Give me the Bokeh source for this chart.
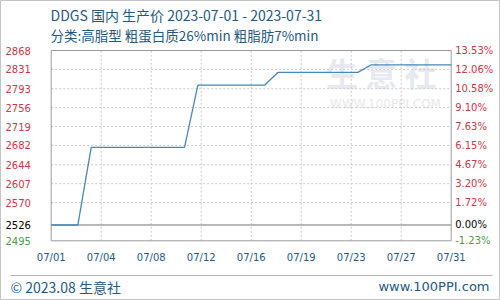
from bokeh.plotting import figure
from bokeh.models import Range1d, ColumnDataSource
from bokeh.core.properties import value
from bokeh.embed import file_html
from bokeh.resources import INLINE

# ---- data ----
dates = ["07/%02d" % d for d in range(1, 32)]
prices = [2526, 2526, 2526,
          2678, 2678, 2678, 2678, 2678, 2678, 2678, 2678,
          2800, 2800, 2800, 2800, 2800, 2800,
          2825, 2825, 2825, 2825, 2825, 2825, 2825,
          2840, 2840, 2840, 2840, 2840, 2840, 2840]
x_idx = list(range(len(dates)))

x_tick_pos = [0, 3.75, 7.5, 11.25, 15, 18.75, 22.5, 26.25, 30]
x_tick_labels = ["07/01", "07/04", "07/08", "07/12", "07/16", "07/19", "07/23", "07/27", "07/31"]

y_ticks = [2495, 2526, 2570, 2607, 2644, 2682, 2719, 2756, 2793, 2831, 2868]
y_left_labels = ["2495", "2526", "2570", "2607", "2644", "2682", "2719", "2756", "2793", "2831", "2868"]
y_right_labels = ["-1.23%", "0.00%", "1.72%", "3.20%", "4.67%", "6.15%", "7.63%", "9.10%",
                  "10.58%", "12.06%", "13.53%"]
base_value = 2526
x_min, x_max = 0, 30
y_min, y_max = 2495, 2868

title_text = "DDGS 国内 生产价 2023-07-01 - 2023-07-31"
subtitle_text = "分类:高脂型 粗蛋白质26%min 粗脂肪7%min"
footer_left = "© 2023.08 生意社"
footer_right = "www.100PPI.com"

RED = "#c8374a"
GREEN = "#4f9a4f"
BLUE_TXT = "#26597f"
LINE = "#4a86b6"
FRAME = "#9a9a9a"
GRID = "#c8c8c8"

W, H = 500, 300
# plot-area placement on the canvas (pixels)
PX_L, PX_R, PX_T, PX_B = 50.7, 450.7, 50.0, 240.3
xs = (PX_R - PX_L) / (x_max - x_min)
ys = (PX_B - PX_T) / (y_max - y_min)


def dx(px):
    return x_min + (px - PX_L) / xs


def dy(py):
    return y_min + (PX_B - py) / ys


p = figure(width=W, height=H, output_backend="svg", toolbar_location=None,
           x_range=Range1d(dx(0), dx(W)), y_range=Range1d(dy(H), dy(0)),
           x_axis_type=None, y_axis_type=None,
           min_border=0, min_border_left=0, min_border_right=0,
           min_border_top=0, min_border_bottom=0)
p.title.visible = False
p.grid.visible = False
p.background_fill_color = "white"
p.border_fill_color = "white"
p.outline_line_color = "#c4c4c4"
p.outline_line_width = 1

# watermark
p.text(x=[dx(388)], y=[dy(71)], text=["生  意  社"], text_font=value("Noto Sans CJK SC"),
       text_font_size="32px", text_color="#e6eaf0", text_align="center",
       text_baseline="middle", text_font_style="bold")
p.text(x=[dx(385)], y=[dy(103)], text=["WWW.100PPI.COM"], text_font=value("DejaVu Sans"),
       text_font_size="12px", text_color="#e8e8e8", text_align="center",
       text_baseline="middle")

# grid
gy = y_ticks[2:-1]
p.segment(x0=[x_min] * len(gy), x1=[x_max] * len(gy), y0=gy, y1=gy,
          line_color=GRID, line_dash="2 2", line_width=1)
gx = x_tick_pos[1:-1]
p.segment(x0=gx, x1=gx, y0=[y_min] * len(gx), y1=[y_max] * len(gx),
          line_color=GRID, line_dash="2 2", line_width=1)

# base line
p.segment(x0=[x_min], x1=[x_max], y0=[base_value], y1=[base_value],
          line_color="#a0a0a0", line_width=1.5)

# frame of the plot area
p.quad(left=[x_min], right=[x_max], bottom=[y_min], top=[y_max],
       fill_alpha=0, line_color=FRAME, line_width=1)

# data
p.line(x_idx, prices, line_color=LINE, line_width=1.3)

# y tick labels
colors = [GREEN, "black"] + [RED] * (len(y_ticks) - 2)
src = ColumnDataSource(dict(y=y_ticks, x0=[x_min] * len(y_ticks), x1=[x_max] * len(y_ticks),
                            l=y_left_labels, r=y_right_labels, c=colors))
p.text(x="x0", y="y", text="l", source=src, x_offset=5 - PX_L,
       text_align="left", text_baseline="middle", text_color="c",
       text_font=value("DejaVu Sans"), text_font_size="10px")
p.text(x="x1", y="y", text="r", source=src, x_offset=4,
       text_align="left", text_baseline="middle", text_color="c",
       text_font=value("DejaVu Sans"), text_font_size="10px")

# x tick labels
p.text(x=x_tick_pos, y=[y_min] * len(x_tick_pos), text=x_tick_labels, y_offset=16.5,
       text_align="center", text_baseline="middle", text_color=BLUE_TXT,
       text_font=value("DejaVu Sans"), text_font_size="10px")

# titles
p.text(x=[x_min], y=[y_max], text=[title_text], x_offset=-0.7, y_offset=-36,
       text_font=value("Noto Sans CJK SC"), text_font_size="14px",
       text_color=BLUE_TXT, text_baseline="middle")
p.text(x=[x_min], y=[y_max], text=[subtitle_text], x_offset=-0.7, y_offset=-16,
       text_font=value("Noto Sans CJK SC"), text_font_size="13.5px",
       text_color=BLUE_TXT, text_baseline="middle")

# footer
p.segment(x0=[dx(10)], x1=[dx(492)], y0=[dy(275)], y1=[dy(275)],
          line_color="#b4b4b4", line_width=1)
p.text(x=[dx(10)], y=[dy(286)], text=[footer_left],
       text_font=value("Noto Sans CJK SC"), text_font_size="14px",
       text_color=BLUE_TXT, text_baseline="middle")
p.text(x=[dx(489)], y=[dy(286)], text=[footer_right],
       text_font=value("DejaVu Sans"), text_font_size="13px",
       text_color=BLUE_TXT, text_baseline="middle", text_align="right")

open("out.html", "w").write(file_html(p, INLINE))
